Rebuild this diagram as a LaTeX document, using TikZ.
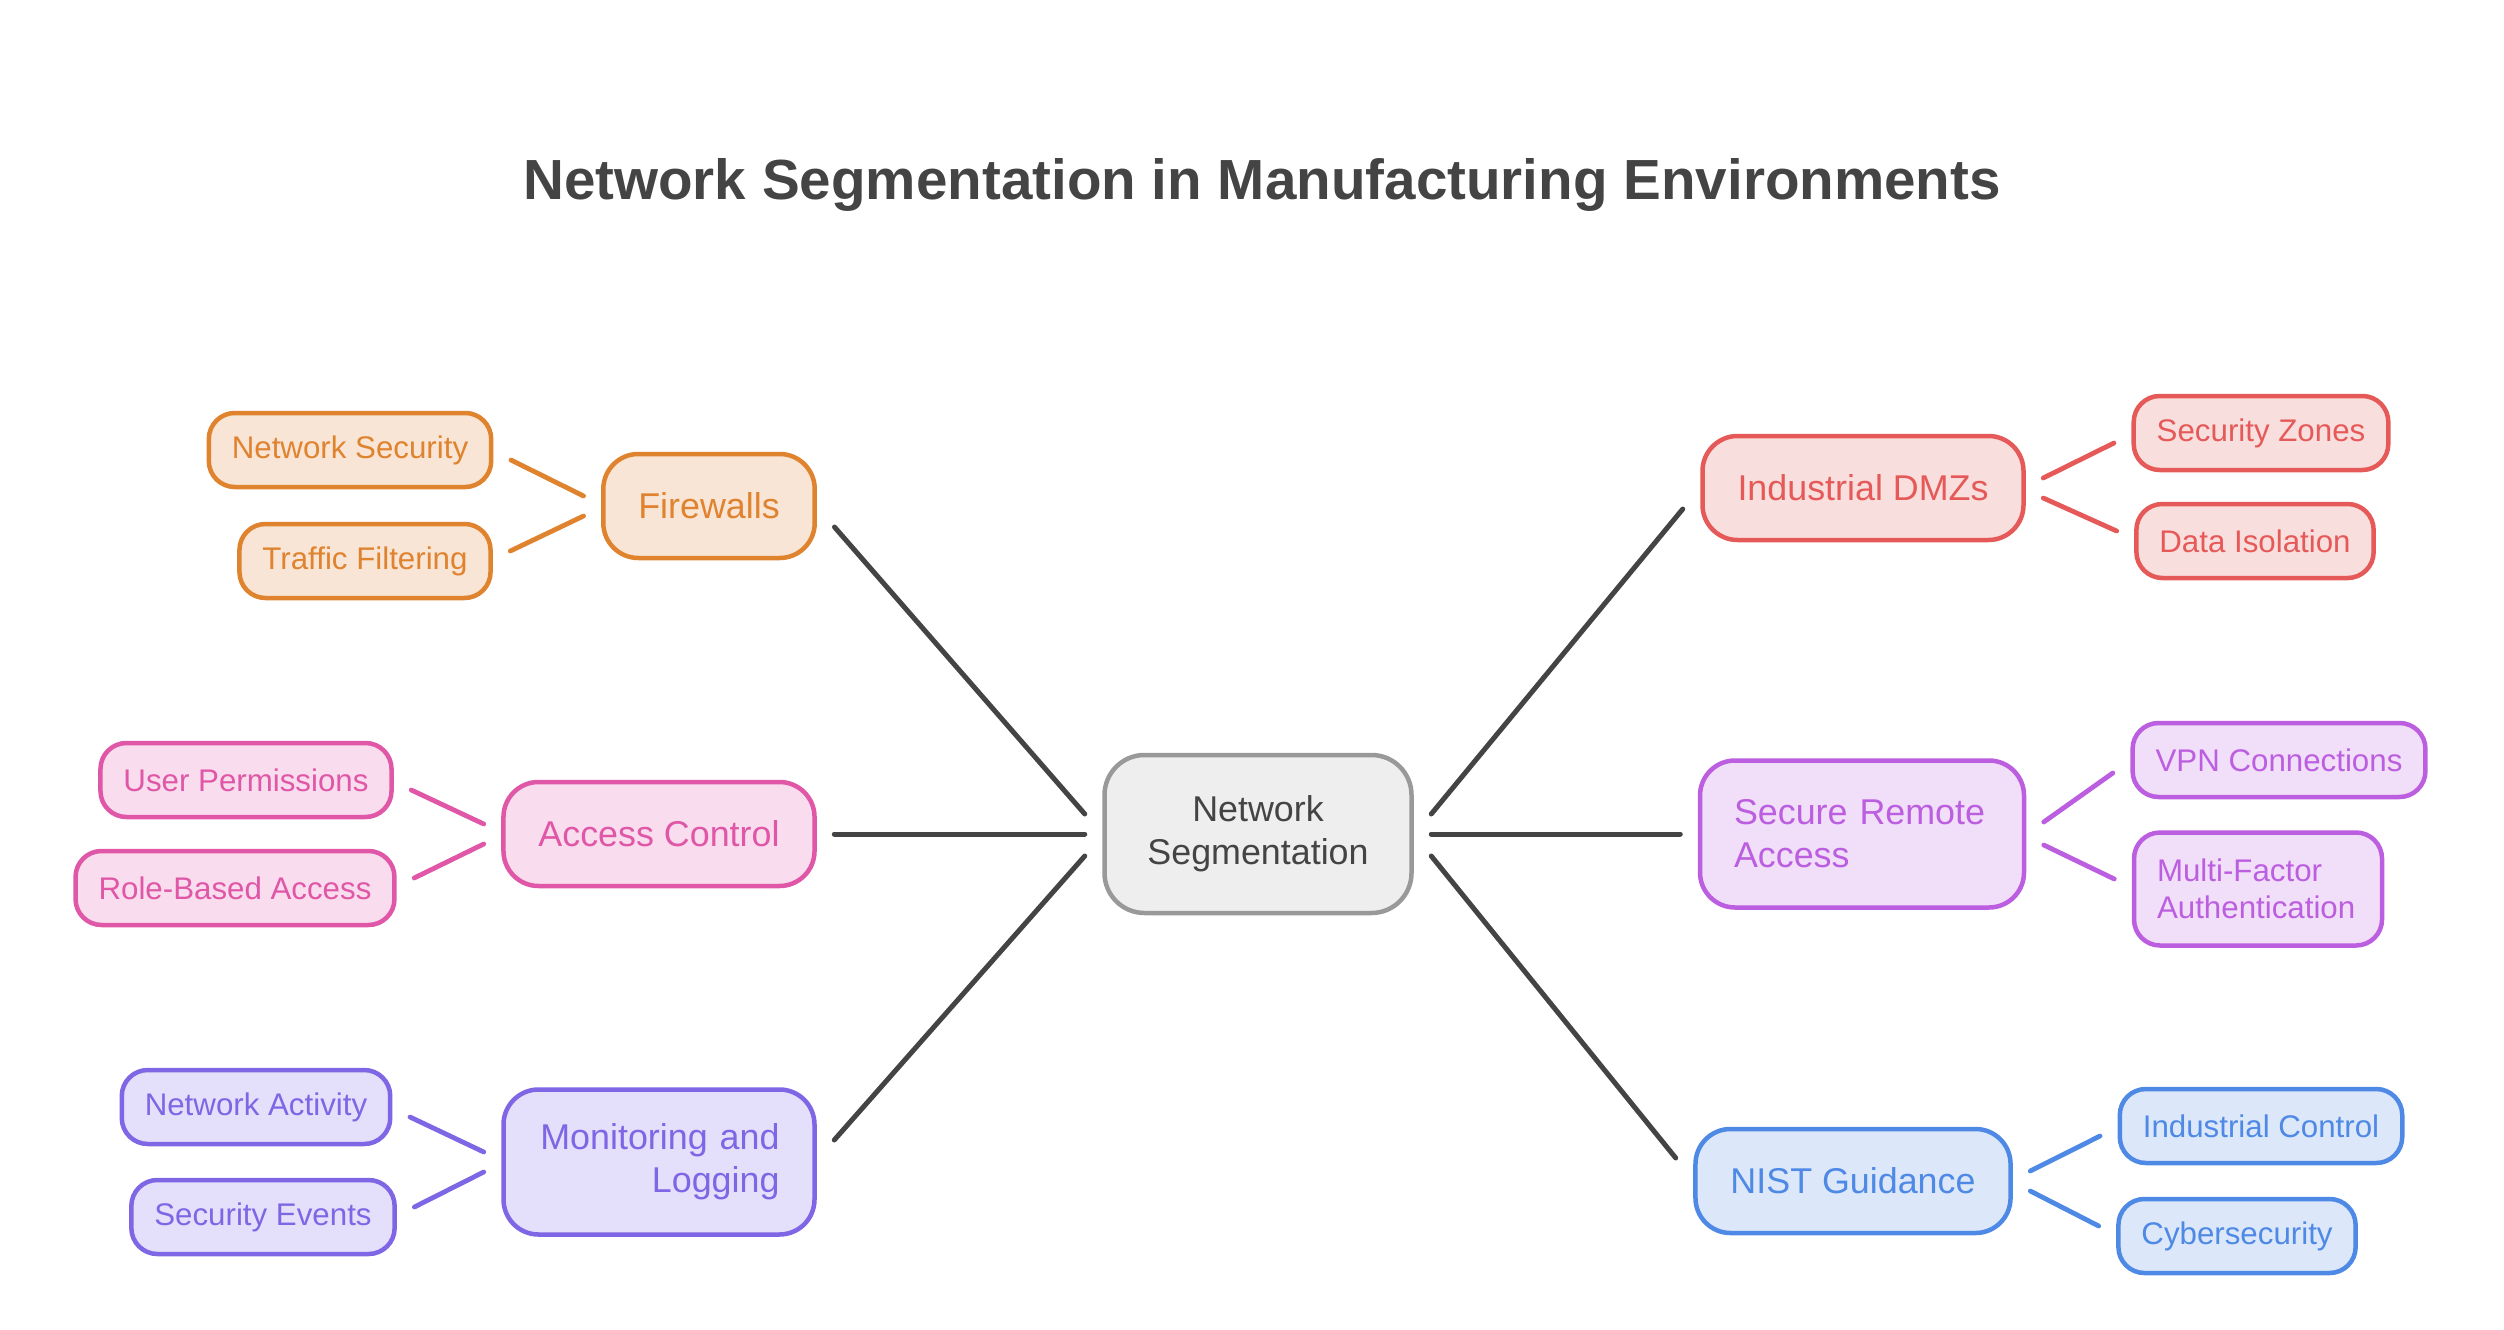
\documentclass[tikz,border=0pt]{standalone}
\usepackage{fontspec}
\setmainfont{Liberation Sans}
\usepackage{tikz}
\definecolor{coreline}{HTML}{999999}
\definecolor{corefill}{HTML}{EEEEEE}
\definecolor{coretext}{HTML}{444444}
\definecolor{trunkline}{HTML}{444444}
\definecolor{fwline}{HTML}{E0832F}
\definecolor{fwfill}{HTML}{F8E5D5}
\definecolor{acline}{HTML}{DF57A6}
\definecolor{acfill}{HTML}{F9DCEE}
\definecolor{mlline}{HTML}{7E66E5}
\definecolor{mlfill}{HTML}{E4DFFB}
\definecolor{dmzline}{HTML}{E55A58}
\definecolor{dmzfill}{HTML}{F9DEDE}
\definecolor{sraline}{HTML}{BC5EE0}
\definecolor{srafill}{HTML}{F1DEF8}
\definecolor{nistline}{HTML}{4E89E5}
\definecolor{nistfill}{HTML}{DCE7F9}
\tikzstyle{core}=[draw=coreline,fill=corefill,text=coretext,line width=0.45mm,rounded corners=4mm,minimum width=30.7mm,minimum height=15.8mm,align=center,font=\fontsize{10.2}{12.2}\selectfont]
\tikzstyle{trunk}=[draw=trunkline,line width=0.5mm,line cap=round]
\tikzstyle{title}=[text=coretext,font=\fontsize{16.1}{19}\selectfont\bfseries]
\tikzset{
  branch/.style={draw=#1line,fill=#1fill,text=#1line,line width=0.45mm,rounded corners=3.5mm,minimum height=10.4mm,inner xsep=3.5mm,font=\fontsize{10.2}{12.2}\selectfont},
  leaf/.style={draw=#1line,fill=#1fill,text=#1line,line width=0.45mm,rounded corners=2.6mm,minimum height=7.4mm,inner xsep=2.3mm,font=\fontsize{8.9}{10.4}\selectfont},
  twig/.style={draw=#1line,line width=0.48mm,line cap=round}
}

\begin{document}
\begin{tikzpicture}[x=0.1mm,y=-0.1mm]
  \useasboundingbox (0,0) rectangle (2504,1330);
  \node[title] (head) at (1262,185) {Network Segmentation in Manufacturing Environments};

  % centre
  \node[core] (core) at (1258,834) {Network\\Segmentation};

  % left side
  \node[branch=fw] (fw) at (709,506) {Firewalls};
  \node[leaf=fw] (netsec) at (350,450) {Network Security};
  \node[leaf=fw] (traffic) at (365,561) {Traffic Filtering};

  \node[branch=ac] (ac) at (659,834) {Access Control};
  \node[leaf=ac] (userperm) at (246,780) {User Permissions};
  \node[leaf=ac] (rolebased) at (235,888) {Role-Based Access};

  \node[branch=ml,minimum height=14.5mm,text width=24.1mm,inner xsep=3.5mm,align=right] (ml) at (659,1162) {Monitoring and\\Logging};
  \node[leaf=ml] (netact) at (256,1107) {Network Activity};
  \node[leaf=ml] (secevt) at (263,1217) {Security Events};

  % right side
  \node[branch=dmz] (dmz) at (1863,488) {Industrial DMZs};
  \node[leaf=dmz] (zones) at (2261,433) {Security Zones};
  \node[leaf=dmz] (isolation) at (2255,541) {Data Isolation};

  \node[branch=sra,minimum height=14.7mm,text width=25.6mm,inner xsep=3.4mm,align=left] (sra) at (1862,834) {Secure Remote\\Access};
  \node[leaf=sra] (vpn) at (2279,760) {VPN Connections};
  \node[leaf=sra,minimum height=11.3mm,text width=20.2mm,align=left] (mfa) at (2258,889) {Multi-Factor\\Authentication};

  \node[branch=nist] (nist) at (1853,1181) {NIST Guidance};
  \node[leaf=nist] (icontrol) at (2261,1126) {Industrial Control};
  \node[leaf=nist] (cyber) at (2237,1236) {Cybersecurity};

  % trunk lines
  \draw[trunk] ([xshift=-1.75mm,yshift=2mm]core.west) -- ([xshift=1.75mm,yshift=-2.1mm]fw.east);
  \draw[trunk] ([xshift=-1.75mm]core.west) -- ([xshift=1.75mm]ac.east);
  \draw[trunk] ([xshift=-1.75mm,yshift=-2.2mm]core.west) -- ([xshift=1.75mm,yshift=2.2mm]ml.east);
  \draw[trunk] ([xshift=1.75mm,yshift=2mm]core.east) -- ([xshift=-1.75mm,yshift=-2.1mm]dmz.west);
  \draw[trunk] ([xshift=1.75mm]core.east) -- ([xshift=-1.75mm]sra.west);
  \draw[trunk] ([xshift=1.75mm,yshift=-2.2mm]core.east) -- ([xshift=-1.75mm,yshift=2.3mm]nist.west);

  % twigs
  \draw[twig=fw] ([xshift=-1.75mm,yshift=1mm]fw.west) -- ([xshift=1.75mm,yshift=-1mm]netsec.east);
  \draw[twig=fw] ([xshift=-1.75mm,yshift=-1mm]fw.west) -- ([xshift=1.75mm,yshift=1mm]traffic.east);
  \draw[twig=ac] ([xshift=-1.75mm,yshift=1mm]ac.west) -- ([xshift=1.75mm,yshift=-1mm]userperm.east);
  \draw[twig=ac] ([xshift=-1.75mm,yshift=-1mm]ac.west) -- ([xshift=1.75mm,yshift=1mm]rolebased.east);
  \draw[twig=ml] ([xshift=-1.75mm,yshift=1mm]ml.west) -- ([xshift=1.75mm,yshift=-1mm]netact.east);
  \draw[twig=ml] ([xshift=-1.75mm,yshift=-1mm]ml.west) -- ([xshift=1.75mm,yshift=1mm]secevt.east);
  \draw[twig=dmz] ([xshift=1.75mm,yshift=1mm]dmz.east) -- ([xshift=-1.75mm,yshift=-1mm]zones.west);
  \draw[twig=dmz] ([xshift=1.75mm,yshift=-1mm]dmz.east) -- ([xshift=-1.75mm,yshift=1mm]isolation.west);
  \draw[twig=sra] ([xshift=1.75mm,yshift=1.2mm]sra.east) -- ([xshift=-1.75mm,yshift=-1.3mm]vpn.west);
  \draw[twig=sra] ([xshift=1.75mm,yshift=-1.1mm]sra.east) -- ([xshift=-1.75mm,yshift=1mm]mfa.west);
  \draw[twig=nist] ([xshift=1.75mm,yshift=1mm]nist.east) -- ([xshift=-1.75mm,yshift=-1mm]icontrol.west);
  \draw[twig=nist] ([xshift=1.75mm,yshift=-1mm]nist.east) -- ([xshift=-1.75mm,yshift=1mm]cyber.west);
\end{tikzpicture}
\end{document}
